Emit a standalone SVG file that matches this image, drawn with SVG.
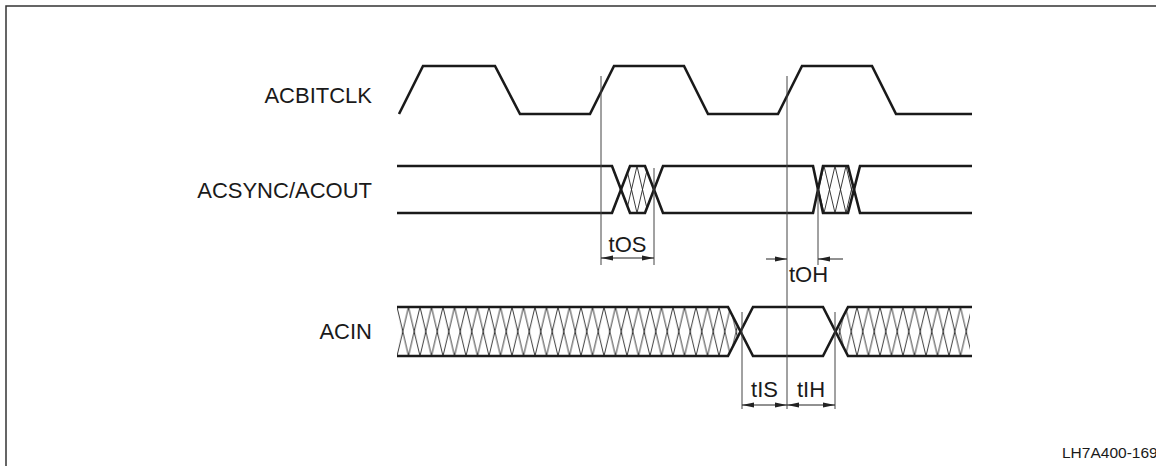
<svg xmlns="http://www.w3.org/2000/svg" width="1156" height="466" viewBox="0 0 1156 466">
<style>
.sig{fill:none;stroke:#1a1a1a;stroke-width:2.6;stroke-linejoin:miter}
.ref{fill:none;stroke:#444;stroke-width:1}
.dim{fill:none;stroke:#222;stroke-width:1}
.lbl{font-family:"Liberation Sans",Arial,sans-serif;font-size:22px;fill:#1a1a1a}
.small{font-family:"Liberation Sans",Arial,sans-serif;font-size:15.5px;fill:#1a1a1a}
</style>
<defs>
<pattern id="hIn" patternUnits="userSpaceOnUse" x="397" y="307" width="11.5" height="49">
<path d="M0,0 L11.5,49 M11.5,0 L0,49" stroke="#222" stroke-width="0.9" fill="none"/>
</pattern>
<pattern id="hOut" patternUnits="userSpaceOnUse" x="626" y="166" width="11" height="47">
<path d="M0,0 L11,47 M11,0 L0,47" stroke="#222" stroke-width="0.9" fill="none"/>
</pattern>
<marker id="ah" markerWidth="12" markerHeight="6" refX="12" refY="3" orient="auto" markerUnits="userSpaceOnUse">
<path d="M0,0.5 L12,3 L0,5.5 Z" fill="#222"/>
</marker>
</defs>
<rect x="6" y="6" width="1160" height="470" fill="none" stroke="#333" stroke-width="1.5"/>
<g id="label-acbitclk"><text class="lbl" x="372" y="103" text-anchor="end">ACBITCLK</text></g>
<g id="label-acsync"><text class="lbl" x="372" y="198" text-anchor="end">ACSYNC/ACOUT</text></g>
<g id="label-acin"><text class="lbl" x="372" y="339" text-anchor="end">ACIN</text></g>
<g id="sig-acbitclk">
<path class="sig" d="M399,114 L423,66 L495,66 L520,114 L590,114 L614,66 L684,66 L708,114 L778,114 L802,66 L872,66 L896,114 L972,114"/>
</g>
<g id="sig-acsync">
<polygon points="621,189.5 630,166 645,166 654,189.5 645,213 630,213" fill="url(#hOut)"/>
<polygon points="818,189.5 823,166 848,166 854,189.5 848,213 823,213" fill="url(#hOut)"/>
<path class="sig" d="M397,166 L612,166 L630,213 L645,213 L663,166 L813,166 L823,213 L848,213 L860,166 L972,166"/>
<path class="sig" d="M397,213 L612,213 L630,166 L645,166 L663,213 L813,213 L823,166 L848,166 L860,213 L972,213"/>
</g>
<g id="sig-acin">
<polygon points="397,307 728,307 740.5,331.5 728,356 397,356" fill="url(#hIn)"/>
<polygon points="848,307 970,307 970,356 848,356 835.5,331.5" fill="url(#hIn)"/>
<path class="sig" d="M397,307 L728,307 L753,356 L823,356 L848,307 L972,307"/>
<path class="sig" d="M397,356 L728,356 L753,307 L823,307 L848,356 L972,356"/>
</g>
<g id="connectors">
<line class="ref" x1="601" y1="76" x2="601" y2="265"/>
<line class="ref" x1="787" y1="76" x2="787" y2="409"/>
<line class="ref" x1="654" y1="168" x2="654" y2="265"/>
<line class="ref" x1="818" y1="189" x2="818" y2="265"/>
<line class="ref" x1="742" y1="312" x2="742" y2="409"/>
<line class="ref" x1="835" y1="312" x2="835" y2="409"/>
<line class="dim" x1="627" y1="258" x2="601" y2="258" marker-end="url(#ah)"/>
<line class="dim" x1="627" y1="258" x2="654" y2="258" marker-end="url(#ah)"/>
<line class="dim" x1="766" y1="259" x2="787" y2="259" marker-end="url(#ah)"/>
<line class="dim" x1="843" y1="259" x2="818" y2="259" marker-end="url(#ah)"/>
<line class="dim" x1="764" y1="405" x2="742" y2="405" marker-end="url(#ah)"/>
<line class="dim" x1="764" y1="405" x2="787" y2="405" marker-end="url(#ah)"/>
<line class="dim" x1="811" y1="405" x2="787" y2="405" marker-end="url(#ah)"/>
<line class="dim" x1="811" y1="405" x2="835" y2="405" marker-end="url(#ah)"/>
</g>
<g id="dim-labels">
<text class="lbl" x="627.5" y="252" text-anchor="middle">tOS</text>
<text class="lbl" x="789" y="282">tOH</text>
<text class="lbl" x="764.5" y="397" text-anchor="middle">tIS</text>
<text class="lbl" x="811" y="397" text-anchor="middle">tIH</text>
</g>
<g id="figure-id"><text class="small" x="1062" y="458">LH7A400-169</text></g>
</svg>
